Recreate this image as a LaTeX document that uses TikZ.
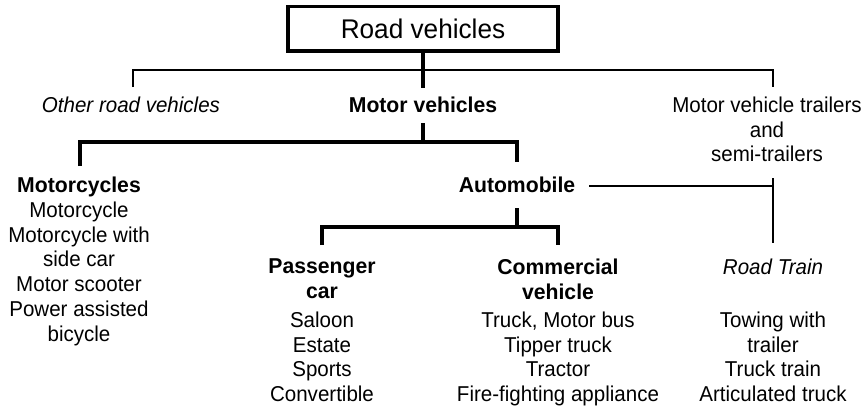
\documentclass[tikz,border=0pt]{standalone}
\usepackage{fontspec}
\setmainfont{Liberation Sans}[FakeStretch=0.955]
\newfontfamily\headfont{Liberation Sans}[FakeStretch=0.985]
\newfontfamily\titlefont{Liberation Sans}[FakeStretch=0.97]
\begin{document}
\begin{tikzpicture}[x=1pt,y=-1pt,
  every node/.style={inner sep=0pt, align=center, font=\fontsize{21.5}{24.7}\selectfont},
  head/.style={font=\headfont\fontsize{21.5}{24.7}\selectfont\bfseries},
  side/.style={font=\fontsize{21.5}{24.7}\selectfont\itshape},
  heavy/.style={line width=3.5pt},
  light/.style={line width=1.6pt}]
\useasboundingbox (0,0) rectangle (866,407);

% title box
\node[draw, heavy, minimum width=270pt, minimum height=44.5pt,
      font=\titlefont\fontsize{27}{32}\selectfont] (root) at (423,28.75) {Road vehicles};

% first level
\node[side, anchor=base] (orv) at (131,112) {Other road vehicles};
\node[head, anchor=base] (mv) at (423,112) {Motor vehicles};
\node[anchor=north] (trl) at (767,96.6) {Motor vehicle trailers\\and\\semi-trailers};

% motor vehicles
\node[head, anchor=base] (mc) at (79,192) {Motorcycles};
\node[anchor=north] (mclist) at (79,201.8) {Motorcycle\\Motorcycle with\\side car\\Motor scooter\\Power assisted\\bicycle};
\node[head, anchor=base] (auto) at (517,192) {Automobile};

% automobiles
\node[head, anchor=north] (pc) at (322,258.6) {Passenger\\car};
\node[anchor=north] (pclist) at (322,311.6) {Saloon\\Estate\\Sports\\Convertible};
\node[head, anchor=north] (cv) at (558,258.6) {Commercial\\vehicle};
\node[anchor=north] (cvlist) at (558,311.6) {Truck, Motor bus\\Tipper truck\\Tractor\\Fire-fighting appliance};
\node[side, anchor=base] (rt) at (773,274) {Road Train};
\node[anchor=north] (rtlist) at (773,311.6) {Towing with\\trailer\\Truck train\\Articulated truck};

% junction points
\coordinate (rootdrop) at (423,88);
\coordinate (orvtop) at (133,87);
\coordinate (orvbar) at (133,70);
\coordinate (trlbar) at (773,70);
\coordinate (trltop) at (773,87);
\coordinate (mvlow) at (423,123);
\coordinate (mvbar) at (423,142);
\coordinate (mctop) at (80,166);
\coordinate (mcbar) at (80,142);
\coordinate (autobar) at (517,142);
\coordinate (autotop) at (517,162);
\coordinate (autolow) at (517,208);
\coordinate (autojoin) at (517,227);
\coordinate (pctop) at (322,245);
\coordinate (pcbar) at (322,227);
\coordinate (cvbar) at (558,227);
\coordinate (cvtop) at (558,245);
\coordinate (autoright) at (589,186);
\coordinate (rtjoin) at (773,186);
\coordinate (trllow) at (773,178);
\coordinate (rttop) at (773,243);

% connectors
\draw[heavy] (root.south) -- (rootdrop);
\draw[light] (orvtop) -- (orvbar) -- (trlbar) -- (trltop);
\draw[heavy] (mvlow) -- (mvbar);
\draw[heavy] (mctop) -- (mcbar) -- (autobar) -- (autotop);
\draw[heavy] (autolow) -- (autojoin);
\draw[heavy] (pctop) -- (pcbar) -- (cvbar) -- (cvtop);
\draw[light] (autoright) -- (rtjoin);
\draw[light] (trllow) -- (rttop);
\end{tikzpicture}
\end{document}
